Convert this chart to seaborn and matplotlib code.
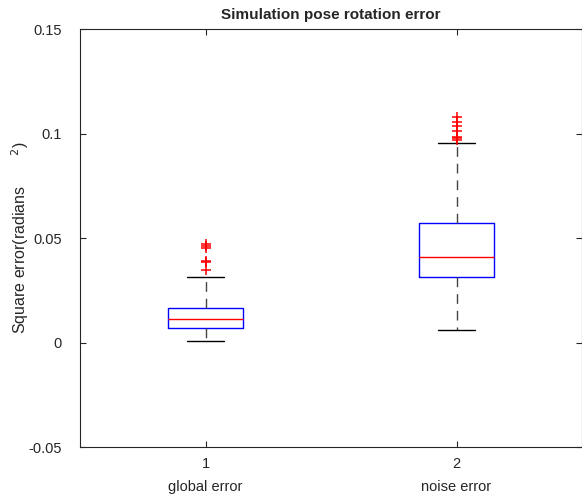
import numpy as np
import matplotlib
matplotlib.use('Agg')
import matplotlib.pyplot as plt
import seaborn as sns

# %%
# box statistics (square error, radians^2)
groups = ['global error', 'noise error']
positions = [1, 2]
q1 = [0.0069, 0.0313]
med = [0.0112, 0.0409]
q3 = [0.0165, 0.0572]
whislo = [0.0007, 0.0060]
whishi = [0.0313, 0.0955]
fliers = [
    [0.0472, 0.0462, 0.0452, 0.0392, 0.0385, 0.0348],
    [0.1079, 0.1055, 0.1036, 0.1012, 0.0983, 0.0978, 0.0969],
]
yticks = [-0.05, 0, 0.05, 0.1, 0.15]
ytick_labels = ['-0.05', '0', '0.05', '0.1', '0.15']

# %%
sns.set_style('ticks')
plt.rcParams['font.family'] = ['Liberation Sans', 'DejaVu Sans']
plt.rcParams['font.size'] = 10.5

stats = []
for i in range(len(groups)):
    stats.append({'label': groups[i], 'q1': q1[i], 'med': med[i], 'q3': q3[i],
                  'whislo': whislo[i], 'whishi': whishi[i],
                  'fliers': np.array(fliers[i])})

fig = plt.figure(figsize=(5.82, 4.97), dpi=100)
ax = fig.add_axes([0.1375, 0.1006, 0.8625, 0.841])

ax.bxp(stats, positions=positions, widths=0.3, capwidths=0.15,
       boxprops=dict(color='blue', linewidth=1),
       medianprops=dict(color='red', linewidth=1),
       whiskerprops=dict(color='#444444', linewidth=1, linestyle=(0, (7, 5))),
       capprops=dict(color='black', linewidth=1),
       flierprops=dict(marker='+', markeredgecolor='red', markersize=7,
                       markeredgewidth=1.1, linestyle='none'))

ax.set_xlim(0.5, 2.5)
ax.set_ylim(-0.05, 0.15)
ax.set_yticks(yticks)
ax.set_yticklabels(ytick_labels)
ax.set_xticks(positions)
ax.set_xticklabels([f'{p}\n{g}' for p, g in zip(positions, groups)],
                   linespacing=1.8)
ax.tick_params(direction='in', top=True, right=True, length=4,
               colors='#262626', labelsize=10.5, width=0.8)
ax.tick_params(axis='x', pad=7)
ax.tick_params(axis='y', pad=13)
for s in ax.spines.values():
    s.set_color('#262626')
    s.set_linewidth(0.8)

ax.set_title('Simulation pose rotation error', fontweight='bold',
             fontsize=11, pad=7)
ax.set_ylabel('Square error(radians       $^{2}$)', fontsize=11.5,
              color='#262626')
ax.yaxis.set_label_coords(-0.097, 0.5)

fig.savefig('out.png', dpi=100)
